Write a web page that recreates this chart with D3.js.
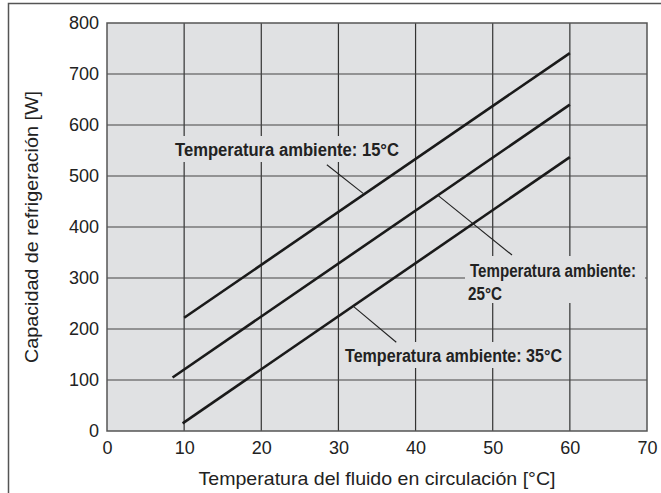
<!DOCTYPE html>
<html><head><meta charset="utf-8">
<script src="https://cdn.jsdelivr.net/npm/d3@7"></script>
<style>body{margin:0;background:#fff;} svg{display:block;font-family:"Liberation Sans",Arial,sans-serif;}</style>
</head><body>
<script>
const xTicks = [0,10,20,30,40,50,60,70];
const yTicks = [0,100,200,300,400,500,600,700,800];
const seriesNames = ["Temperatura ambiente: 15°C","Temperatura ambiente: 25°C","Temperatura ambiente: 35°C"];
const series15 = [[10,222],[60,741]];
const series25 = [[8.5,105],[60,640]];
const series35 = [[9.8,15],[60,537]];
// leader lines (data coords)
const leader15 = [[33.2,466],[28.5,522]];
const leader25 = [[42.9,462],[52.5,345]];
const leader35 = [[31.9,245],[37.5,174]];

const W=661,H=493;
const svg=d3.select("body").append("svg").attr("width",W).attr("height",H);
const x=d3.scaleLinear().domain([0,70]).range([107,647]);
const y=d3.scaleLinear().domain([0,800]).range([431,23]);

svg.append("path").attr("d",`M8.5,${H} L8.5,3.5 L${W},3.5`).attr("fill","none").attr("stroke","#555").attr("stroke-width",1.5);

svg.append("rect").attr("x",x(0)).attr("y",y(800)).attr("width",x(70)-x(0)).attr("height",y(0)-y(800)).attr("fill","#e0e1e3");

const g=svg.append("g");
g.selectAll(".vx").data(xTicks.slice(1,-1)).join("line").attr("x1",d=>x(d)).attr("x2",d=>x(d)).attr("y1",y(0)).attr("y2",y(800)).attr("stroke","#333").attr("stroke-width",1.2);
g.selectAll(".hy").data(yTicks.slice(1,-1)).join("line").attr("y1",d=>y(d)).attr("y2",d=>y(d)).attr("x1",x(0)).attr("x2",x(70)).attr("stroke","#444").attr("stroke-width",1.2);

const bg="#e0e1e3";
svg.append("rect").attr("x",170).attr("y",136).attr("width",236).attr("height",26).attr("fill",bg);
svg.append("rect").attr("x",465).attr("y",256).attr("width",180).attr("height",47).attr("fill",bg);
svg.append("rect").attr("x",340).attr("y",342).attr("width",226).attr("height",26).attr("fill",bg);

svg.append("rect").attr("x",x(0)).attr("y",y(800)).attr("width",x(70)-x(0)).attr("height",y(0)-y(800)).attr("fill","none").attr("stroke","#555").attr("stroke-width",1.5);

const xAxis=svg.append("g").attr("transform",`translate(0,${y(0)})`).call(d3.axisBottom(x).tickValues(xTicks).tickSize(0).tickPadding(10));
xAxis.select(".domain").remove();
xAxis.selectAll("text").attr("font-size",18).attr("fill","#222").attr("font-family","Liberation Sans, Arial, sans-serif");
const yAxis=svg.append("g").attr("transform",`translate(${x(0)},0)`).call(d3.axisLeft(y).tickValues(yTicks).tickSize(0).tickPadding(8));
yAxis.select(".domain").remove();
yAxis.selectAll("text").attr("font-size",18).attr("fill","#222").attr("font-family","Liberation Sans, Arial, sans-serif");

svg.append("text").attr("x",377).attr("y",485).attr("text-anchor","middle").attr("font-size",18.5).attr("fill","#222")
  .attr("textLength",357).attr("lengthAdjust","spacingAndGlyphs").text("Temperatura del fluido en circulación [°C]");
svg.append("text").attr("transform",`translate(38,${(y(0)+y(800))/2}) rotate(-90)`).attr("text-anchor","middle").attr("font-size",18.5).attr("fill","#222")
  .attr("textLength",272).attr("lengthAdjust","spacingAndGlyphs").text("Capacidad de refrigeración [W]");

const line=d3.line().x(d=>x(d[0])).y(d=>y(d[1]));
[series15,series25,series35].forEach(s=>{
  svg.append("path").attr("d",line(s)).attr("fill","none").attr("stroke","#1a1a1a").attr("stroke-width",2.6);
});
[leader15,leader25,leader35].forEach(s=>{
  svg.append("path").attr("d",line(s)).attr("fill","none").attr("stroke","#222").attr("stroke-width",1.1);
});

const lab=(tx,ty,t,len)=>svg.append("text").attr("x",tx).attr("y",ty).attr("font-size",17.5).attr("font-weight","bold").attr("fill","#222")
  .attr("textLength",len).attr("lengthAdjust","spacingAndGlyphs").text(t);
lab(175,156,seriesNames[0],224);
lab(470,277,"Temperatura ambiente:",166);
lab(468,300,"25°C",34);
lab(345,362,seriesNames[2],217);
</script>
</body></html>
